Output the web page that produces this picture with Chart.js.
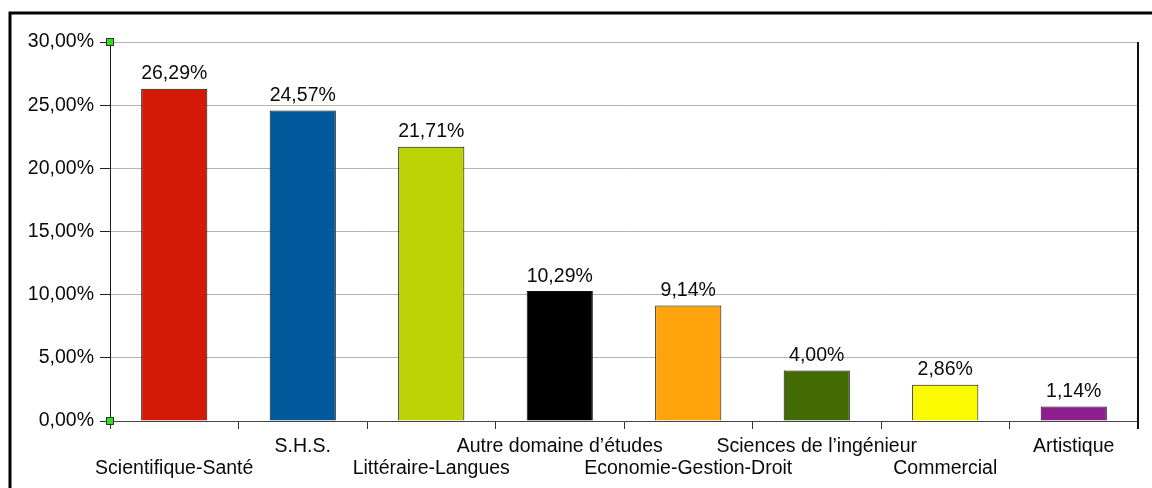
<!DOCTYPE html>
<html>
<head>
<meta charset="utf-8">
<script src="https://cdn.jsdelivr.net/npm/chart.js@4/dist/chart.umd.min.js"></script>
<style>
  html, body { margin: 0; padding: 0; background: #fff; }
  #wrap { width: 1152px; height: 488px; position: relative; }
  canvas { display: block; }
</style>
</head>
<body>
<div id="wrap"><canvas id="c" width="1152" height="488"></canvas></div>
<script>
const categories = ["Scientifique-Santé", "S.H.S.", "Littéraire-Langues", "Autre domaine d’études",
  "Economie-Gestion-Droit", "Sciences de l’ingénieur", "Commercial", "Artistique"];
const values = [26.29, 24.57, 21.71, 10.29, 9.14, 4.00, 2.86, 1.14];
const barColors = ["#d31a07", "#01589a", "#bcd305", "#000000", "#ffa40c", "#426b03", "#fbfb00", "#8e1d8d"];
const yTicks = [0, 5, 10, 15, 20, 25, 30];

const FONT = { family: "'Liberation Sans', Arial, sans-serif", size: 19.5 };
const TEXT = '#0a0a0a';
const fmt = v => v.toFixed(2).replace('.', ',') + '%';

const framePlugin = {
  id: 'frame',
  beforeDraw(chart) {
    const ctx = chart.ctx;
    ctx.save();
    ctx.fillStyle = '#fff';
    ctx.fillRect(0, 0, chart.width, chart.height);
    ctx.strokeStyle = '#000';
    ctx.lineWidth = 3;
    ctx.beginPath();
    ctx.moveTo(10, chart.height);
    ctx.lineTo(10, 13);
    ctx.lineTo(chart.width, 13);
    ctx.stroke();
    ctx.restore();
  },
  afterDraw(chart) {
    const ctx = chart.ctx;
    const a = chart.chartArea;
    ctx.save();
    ctx.strokeStyle = '#111';
    ctx.lineWidth = 2;
    ctx.beginPath();
    ctx.moveTo(a.right, a.top);
    ctx.lineTo(a.right, a.bottom + 8);
    ctx.stroke();
    ctx.fillStyle = TEXT;
    ctx.font = FONT.size + 'px ' + FONT.family;
    ctx.textAlign = 'center';
    ctx.textBaseline = 'alphabetic';
    const meta = chart.getDatasetMeta(0);
    meta.data.forEach((bar, i) => {
      ctx.fillText(fmt(values[i]), bar.x, bar.y - 9.5);
    });
    const ys = chart.scales.y;
    [ys.getPixelForValue(ys.max), ys.getPixelForValue(ys.min)].forEach(py => {
      ctx.fillStyle = '#2ee01e';
      ctx.strokeStyle = '#333';
      ctx.lineWidth = 1;
      ctx.fillRect(a.left - 3.5, py - 3.5, 7, 7);
      ctx.strokeRect(a.left - 3.5, py - 3.5, 7, 7);
    });
    ctx.restore();
  }
};

new Chart(document.getElementById('c'), {
  type: 'bar',
  data: {
    labels: categories,
    datasets: [{
      data: values,
      backgroundColor: barColors,
      borderColor: '#0d0d0d',
      borderWidth: 1,
      categoryPercentage: 1,
      barPercentage: 0.515
    }]
  },
  options: {
    responsive: false,
    animation: false,
    devicePixelRatio: 1,
    layout: { padding: { top: 42, right: 14, left: 0, bottom: 0 } },
    plugins: { legend: { display: false }, tooltip: { enabled: false } },
    scales: {
      x: {
        afterFit(s) { s.height = 67; },
        grid: { drawOnChartArea: false, drawTicks: true, tickLength: 8, offset: true, tickColor: '#333', color: '#333' },
        border: { color: '#444', width: 1 },
        ticks: {
          color: TEXT,
          font: { ...FONT, lineHeight: 1.12 },
          padding: 7,
          maxRotation: 0,
          autoSkip: false,
          callback(v, i) { return i % 2 === 0 ? ['', categories[i]] : [categories[i]]; }
        }
      },
      y: {
        min: yTicks[0],
        max: yTicks[yTicks.length - 1],
        afterFit(s) { s.width = 110; },
        afterBuildTicks(s) { s.ticks = yTicks.map(v => ({ value: v })); },
        grid: { color: '#b4b4b4', tickColor: '#222', tickLength: 10, lineWidth: 1 },
        border: { color: '#1a1a1a', width: 1 },
        ticks: {
          color: TEXT,
          font: FONT,
          padding: 6,
          callback(v) { return fmt(v); }
        }
      }
    }
  },
  plugins: [framePlugin]
});
</script>
</body>
</html>
